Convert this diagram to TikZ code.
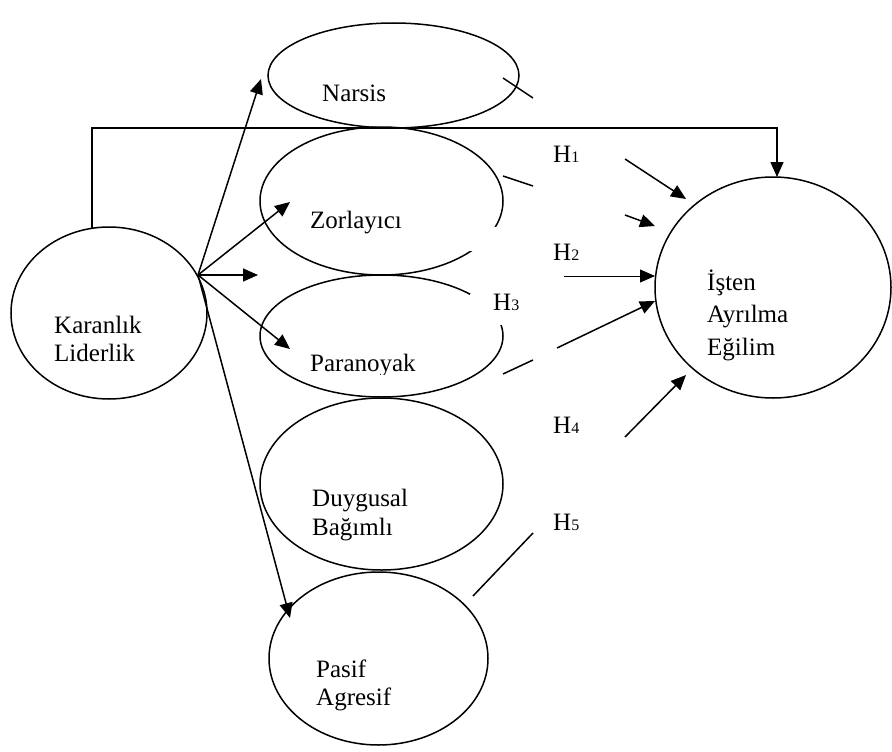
\documentclass[tikz,border=0pt]{standalone}
\usepackage{fontspec}
\setmainfont{Liberation Serif}
\usetikzlibrary{shapes.geometric,arrows.meta}
\begin{document}
\begin{tikzpicture}[x=1pt,y=-1pt,
  ov/.style={draw,ellipse,line width=1.5pt,inner sep=0pt},
  lbl/.style={anchor=base west,inner sep=0pt,font=\fontsize{25}{30}\selectfont},
  ln/.style={line width=1.5pt},
  arr/.style={line width=1.5pt,-{Triangle[length=15pt,width=13pt]}},
  thinarr/.style={line width=0.8pt,-{Triangle[length=15pt,width=13pt]}}]
\useasboundingbox (0,0) rectangle (892,752);
\fill[white] (0,0) rectangle (892,752);

% ellipses
\node[ov,minimum width=251pt,minimum height=105pt] (narsis) at (393.5,75.5) {};
\node[ov,minimum width=243pt,minimum height=148pt] (zor) at (381.5,201) {};
\node[ov,minimum width=243pt,minimum height=122pt] (para) at (381.5,336) {};
\node[ov,minimum width=243pt,minimum height=172pt] (duy) at (381.5,484) {};
\node[ov,minimum width=219pt,minimum height=173pt] (pasif) at (378.5,658.5) {};
\node[ov,minimum width=196pt,minimum height=172pt] (kar) at (109,313) {};
\node[ov,minimum width=236pt,minimum height=221pt] (isten) at (773,287.5) {};

% white boxes of the label frames
\fill[white] (470,227) rectangle (522,251);
\fill[white] (470,294) rectangle (522,325);

% texts
\node[lbl] (tn) at (322,102) {Narsis};
\node[lbl] (tz) at (310,228) {Zorlayıcı};
\begin{scope}
  \clip (300,340) rectangle (440,374);
  \node[lbl] (tp) at (310,371) {Paranoyak};
\end{scope}
\node[lbl] (td1) at (312,506) {Duygusal};
\node[lbl] (td2) at (312,535) {Bağımlı};
\node[lbl] (tpa1) at (316,677) {Pasif};
\node[lbl] (tpa2) at (316,705) {Agresif};
\node[lbl] (tk1) at (54,333) {Karanlık};
\node[lbl] (tk2) at (54,361) {Liderlik};
\node[lbl] (ti1) at (707,290) {İşten};
\node[lbl] (ti2) at (707,322) {Ayrılma};
\node[lbl] (ti3) at (707,355) {Eğilim};

\node[lbl] (h1) at (553,162) {H{\fontsize{16}{16}\selectfont 1}};
\node[lbl] (h2) at (553,260) {H{\fontsize{16}{16}\selectfont 2}};
\node[lbl] (h3) at (493,310) {H{\fontsize{16}{16}\selectfont 3}};
\node[lbl] (h4) at (553,433) {H{\fontsize{16}{16}\selectfont 4}};
\node[lbl] (h5) at (553,530) {H{\fontsize{16}{16}\selectfont 5}};

% coordinates
\coordinate (hub) at (198,275);
\coordinate (topstart) at (92,228);
\coordinate (topcorner) at (777,128);
\coordinate (toptip) at (777,177);
\coordinate (tN) at (261,79);
\coordinate (tZ) at (290,202);
\coordinate (tM) at (258,275);
\coordinate (tP) at (290,349);
\coordinate (tA) at (290,618);

\coordinate (n1) at (503,78);   \coordinate (n2) at (533,98);
\coordinate (n3) at (625,159);  \coordinate (n4) at (686,199);
\coordinate (z1) at (503,176);  \coordinate (z2) at (533,186);
\coordinate (z3) at (625,215);  \coordinate (z4) at (655,226);
\coordinate (q1) at (564,276);  \coordinate (q2) at (655,276);
\coordinate (p1) at (503,374);  \coordinate (p2) at (533,360);
\coordinate (p3) at (557,348);  \coordinate (p4) at (655,301);
\coordinate (d3) at (625,437);  \coordinate (d4) at (686,375);
\coordinate (a1) at (473,596);  \coordinate (a2) at (533,533);

% connectors
\draw[arr] (topstart) |- (topcorner) -- (toptip);
\draw[arr] (hub) -- (tN);
\draw[arr] (hub) -- (tZ);
\draw[arr] (hub) -- (tM);
\draw[arr] (hub) -- (tP);
\draw[arr] (hub) -- (tA);

\draw[ln] (n1) -- (n2);
\draw[arr] (n3) -- (n4);
\draw[ln] (z1) -- (z2);
\draw[arr] (z3) -- (z4);
\draw[thinarr] (q1) -- (q2);
\draw[ln] (p1) -- (p2);
\draw[arr] (p3) -- (p4);
\draw[arr] (d3) -- (d4);
\draw[ln] (a1) -- (a2);
\end{tikzpicture}
\end{document}
